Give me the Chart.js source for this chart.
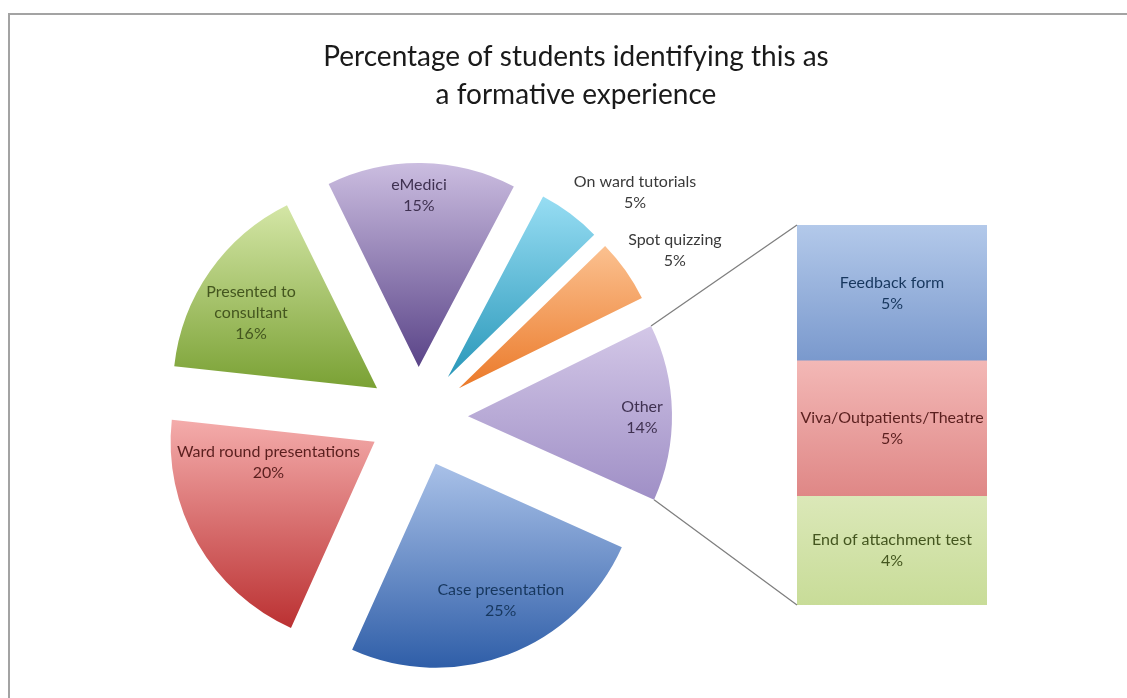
<!DOCTYPE html>
<html>
<head>
<meta charset="utf-8">
<script src="https://cdn.jsdelivr.net/npm/chart.js@4/dist/chart.umd.min.js"></script>
<style>
  html, body { margin: 0; background: #fff; }
  #wrap { position: relative; width: 1127px; height: 698px; }
  #wrap canvas { position: absolute; left: 0; top: 0; }
</style>
</head>
<body>
<div id="wrap">
  <canvas id="pieChart" width="1127" height="698"></canvas>
  <canvas id="barChart" width="1127" height="698"></canvas>
</div>
<script>
// pie slices, clockwise starting from the "Other" slice
var pieLabels = ["Other", "Case presentation", "Ward round presentations", "Presented to consultant", "eMedici", "On ward tutorials", "Spot quizzing"];
var pieValues = [14, 25, 20, 16, 15, 5, 5];

// breakdown of "Other", bottom to top
var otherLabels = ["End of attachment test", "Viva/Outpatients/Theatre", "Feedback form"];
var otherValues = [4, 5, 5];

var titleLines = ["Percentage of students identifying this as", "a formative experience"];

// styling
var FONT = "Lato, 'Open Sans', sans-serif";
var explodePx = 50;
var pieTop = ["#d3c7e7", "#a9c1e8", "#f4acab", "#d4e6a6", "#cbbde0", "#97ddf3", "#fbc190"];
var pieBottom = ["#9f8fc6", "#2f5ea8", "#bb3132", "#7aa134", "#5a4488", "#2a98ba", "#eb7a2a"];
var pieText = ["#3f3151", "#17375e", "#5a1f1e", "#44561f", "#3f3151", "#3a3a3a", "#3a3a3a"];
// [distance as fraction of radius, angle shift in degrees] for each label
var piePlace = [[0.853, 1.5], [0.74, -4.7], [0.53, 18.8], [0.72, -4.1], [0.84, -0.7], [1.288, 8.6], [1.257, 2.6]];
var pieWrap = [200, 200, 260, 110, 200, 200, 200];
var barTop = ["#dbe8b8", "#f3b8b6", "#b3c9ea"];
var barBottom = ["#c8dc98", "#df8786", "#7a99cd"];
var barText = ["#44561f", "#5a1f1e", "#17375e"];

var pieTotal = pieValues.reduce(function(a, b) { return a + b; }, 0);
var otherTotal = otherValues.reduce(function(a, b) { return a + b; }, 0);

function wrapText(ctx, text, maxW) {
  var words = text.split(" "), lines = [], cur = "";
  words.forEach(function(w) {
    var test = cur ? cur + " " + w : w;
    if (cur && ctx.measureText(test).width > maxW) { lines.push(cur); cur = w; }
    else cur = test;
  });
  lines.push(cur);
  return lines;
}

function drawBlock(ctx, lines, x, y, color) {
  var lh = 21;
  ctx.fillStyle = color;
  ctx.textAlign = "center";
  ctx.textBaseline = "middle";
  var y0 = y - (lines.length - 1) * lh / 2;
  lines.forEach(function(l, k) { ctx.fillText(l, x, y0 + k * lh); });
}

function sliceFill(c) {
  var i = c.dataIndex, el = c.element;
  if (!el || !el.outerRadius) return pieTop[i];
  var mid = (el.startAngle + el.endAngle) / 2;
  var ay = el.y + Math.sin(mid) * explodePx;
  var minY = ay, maxY = ay;
  for (var k = 0; k <= 30; k++) {
    var a = el.startAngle + (el.endAngle - el.startAngle) * k / 30;
    var py = ay + Math.sin(a) * el.outerRadius;
    minY = Math.min(minY, py); maxY = Math.max(maxY, py);
  }
  var g = c.chart.ctx.createLinearGradient(0, minY, 0, maxY);
  g.addColorStop(0, pieTop[i]);
  g.addColorStop(1, pieBottom[i]);
  return g;
}

function barFill(c) {
  var i = c.datasetIndex, el = c.element;
  if (!el || el.base === undefined || !isFinite(el.y)) return barTop[i];
  var g = c.chart.ctx.createLinearGradient(0, el.y, 0, el.base);
  g.addColorStop(0, barTop[i]);
  g.addColorStop(1, barBottom[i]);
  return g;
}

function shiftArcs(chart, sign) {
  chart.getDatasetMeta(0).data.forEach(function(arc) {
    var mid = (arc.startAngle + arc.endAngle) / 2;
    arc.x += sign * Math.cos(mid) * explodePx;
    arc.y += sign * Math.sin(mid) * explodePx;
  });
}

var framePlugin = {
  id: "frame",
  beforeDraw: function(chart) {
    var ctx = chart.ctx;
    ctx.save();
    ctx.strokeStyle = "#a3a3a3";
    ctx.lineWidth = 2;
    ctx.beginPath();
    ctx.moveTo(9, 698);
    ctx.lineTo(9, 14);
    ctx.lineTo(1127, 14);
    ctx.stroke();
    ctx.restore();
  }
};

// pull each slice out from the centre, then label it
var explodePlugin = {
  id: "explode",
  beforeDatasetsDraw: function(chart) { shiftArcs(chart, 1); },
  afterDatasetsDraw: function(chart) {
    shiftArcs(chart, -1);
    var ctx = chart.ctx;
    var meta = chart.getDatasetMeta(0);
    ctx.save();
    ctx.font = "16px " + FONT;
    meta.data.forEach(function(arc, i) {
      var mid = (arc.startAngle + arc.endAngle) / 2;
      var ax = arc.x + Math.cos(mid) * explodePx;
      var ay = arc.y + Math.sin(mid) * explodePx;
      var ang = mid + piePlace[i][1] * Math.PI / 180;
      var d = piePlace[i][0] * arc.outerRadius;
      var lines = wrapText(ctx, pieLabels[i], pieWrap[i]);
      lines.push(Math.round(pieValues[i] / pieTotal * 100) + "%");
      drawBlock(ctx, lines, ax + Math.cos(ang) * d, ay + Math.sin(ang) * d, pieText[i]);
    });
    ctx.restore();
  }
};

var pieChart = new Chart(document.getElementById("pieChart"), {
  type: "pie",
  data: {
    labels: pieLabels,
    datasets: [{
      data: pieValues,
      backgroundColor: sliceFill,
      borderWidth: 0,
      radius: 204
    }]
  },
  options: {
    responsive: false,
    animation: false,
    events: [],
    rotation: 90 - (pieValues[0] / pieTotal) * 180 - 1,
    layout: { padding: { left: 208, right: 499, top: 207, bottom: 71 } },
    plugins: { legend: { display: false }, tooltip: { enabled: false } }
  },
  plugins: [framePlugin, explodePlugin]
});
pieChart.update("none");

var connectorPlugin = {
  id: "connectors",
  afterDatasetsDraw: function(chart) {
    var ctx = chart.ctx;
    var arc = pieChart.getDatasetMeta(0).data[0];
    var mid = (arc.startAngle + arc.endAngle) / 2;
    var ax = arc.x + Math.cos(mid) * explodePx;
    var ay = arc.y + Math.sin(mid) * explodePx;
    var r = arc.outerRadius;
    var topBar = chart.getDatasetMeta(otherValues.length - 1).data[0];
    var botBar = chart.getDatasetMeta(0).data[0];
    var left = topBar.x - topBar.width / 2;
    ctx.save();
    ctx.strokeStyle = "#7f7f7f";
    ctx.lineWidth = 1.3;
    ctx.beginPath();
    ctx.moveTo(ax + Math.cos(arc.startAngle) * r, ay + Math.sin(arc.startAngle) * r);
    ctx.lineTo(left, topBar.y);
    ctx.moveTo(ax + Math.cos(arc.endAngle) * r, ay + Math.sin(arc.endAngle) * r);
    ctx.lineTo(left, botBar.base);
    ctx.stroke();

    ctx.font = "16px " + FONT;
    otherLabels.forEach(function(lab, i) {
      var el = chart.getDatasetMeta(i).data[0];
      var lines = [lab, Math.round(otherValues[i] / pieTotal * 100) + "%"];
      drawBlock(ctx, lines, el.x, (el.y + el.base) / 2, barText[i]);
    });
    ctx.restore();
  }
};

var barChart = new Chart(document.getElementById("barChart"), {
  type: "bar",
  data: {
    labels: ["Other"],
    datasets: otherLabels.map(function(lab, i) {
      return {
        label: lab,
        data: [otherValues[i]],
        backgroundColor: barFill,
        borderWidth: 0,
        barPercentage: 1,
        categoryPercentage: 1
      };
    })
  },
  options: {
    responsive: false,
    animation: false,
    events: [],
    layout: { padding: { left: 165, right: 140, top: 38, bottom: 93 } },
    scales: {
      x: { stacked: true, display: false },
      y: {
        stacked: true, min: 0, max: otherTotal,
        ticks: { display: false }, grid: { display: false }, border: { display: false },
        afterFit: function(s) { s.width = 632; }
      }
    },
    plugins: {
      legend: { display: false },
      tooltip: { enabled: false },
      title: {
        display: true,
        text: titleLines,
        color: "#1a1a1a",
        font: { family: FONT, size: 28, weight: "normal", lineHeight: 1.357 },
        padding: { top: 0, bottom: 111 }
      }
    }
  },
  plugins: [connectorPlugin]
});
barChart.update("none");
</script>
</body>
</html>
